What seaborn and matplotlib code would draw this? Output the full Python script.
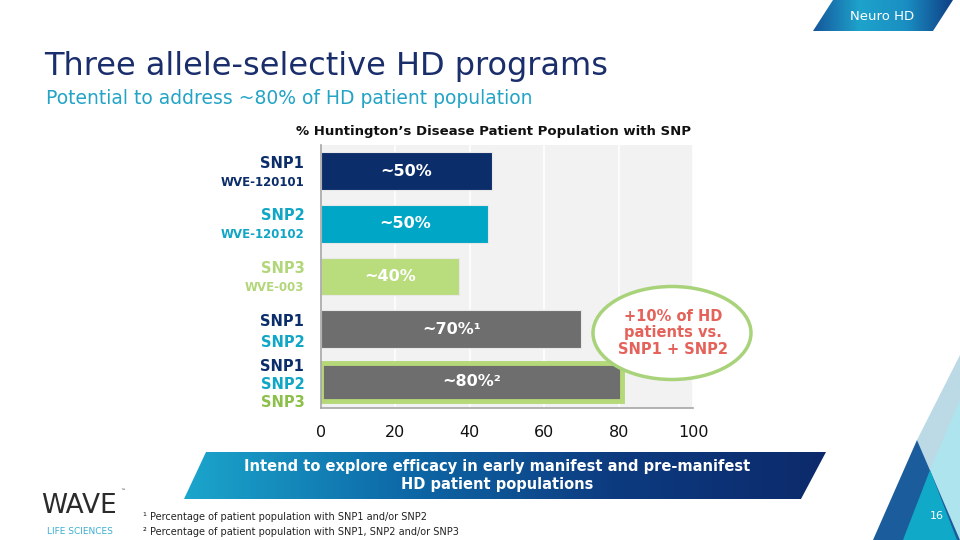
import numpy as np
import pandas as pd
import matplotlib
matplotlib.use("Agg")
import matplotlib.pyplot as plt
import seaborn as sns
from matplotlib.patches import Polygon, Ellipse
from matplotlib.colors import LinearSegmentedColormap

# ---------------- data ----------------
categories = ["SNP1", "SNP2", "SNP3", "SNP1+SNP2", "SNP1+SNP2+SNP3"]
values = [46, 45, 37, 70, 81]
bar_labels = ["~50%", "~50%", "~40%", "~70%\u00b9", "~80%\u00b2"]
bar_colors = ["#0b2d6a", "#00a6c6", "#b9dc7d", "#6e6e6e", "#6e6e6e"]
row_label_lines = [
    [("SNP1", 10.5), ("WVE-120101", 8.5)],
    [("SNP2", 10.5), ("WVE-120102", 8.5)],
    [("SNP3", 10.5), ("WVE-003", 8.5)],
    [("SNP1", 10.5), ("SNP2", 10.5)],
    [("SNP1", 10.5), ("SNP2", 10.5), ("SNP3", 10.5)],
]
row_label_colors = [
    ["#0b2d6a", "#0b2d6a"],
    ["#10a6c6", "#10a6c6"],
    ["#b2d67a", "#b2d67a"],
    ["#0b2d6a", "#10a6c6"],
    ["#0b2d6a", "#10a6c6", "#8cc04a"],
]
xticks = [0, 20, 40, 60, 80, 100]
title = "Three allele-selective HD programs"
subtitle = "Potential to address ~80% of HD patient population"
chart_title = "% Huntington\u2019s Disease Patient Population with SNP"
callout = "+10% of HD\npatients vs.\nSNP1 + SNP2"
banner = "Intend to explore efficacy in early manifest and pre-manifest\nHD patient populations"
footnotes = ["\u00b9 Percentage of patient population with SNP1 and/or SNP2",
             "\u00b2 Percentage of patient population with SNP1, SNP2 and/or SNP3"]

df = pd.DataFrame({"cat": categories, "val": values})

sns.set_theme(style="white")
plt.rcParams["font.family"] = ["DejaVu Sans"]

W, H = 960, 540
fig = plt.figure(figsize=(9.6, 5.4), dpi=100)
fig.patch.set_facecolor("white")

ax = fig.add_axes([321 / W, 1 - 408 / H, (693 - 321) / W, (408 - 145) / H])
sns.barplot(data=df, x="val", y="cat", hue="cat", palette=bar_colors,
            orient="h", width=0.72, legend=False, ax=ax, saturation=1, zorder=3)
ax.set_facecolor("#f2f2f2")
ax.set_xlim(0, 100)
ax.set_ylim(4.5, -0.5)
ax.set_xticks(xticks)
ax.set_xticklabels([str(t) for t in xticks], fontsize=11.5, color="#111111")
ax.tick_params(axis="x", length=0, pad=12)
ax.set_yticks(range(len(categories)))
ax.set_yticklabels([""] * len(categories))
ax.tick_params(axis="y", length=0)
ax.set_xlabel("")
ax.set_ylabel("")
ax.grid(axis="x", color="white", lw=1.2, zorder=0)
ax.set_axisbelow(True)
for s in ["top", "right"]:
    ax.spines[s].set_visible(False)
for s in ["left", "bottom"]:
    ax.spines[s].set_color("#a6a6a6")
    ax.spines[s].set_linewidth(1.2)
    ax.spines[s].set_zorder(6)

patches = [p for p in ax.patches]
for p in patches[:-1]:
    p.set_edgecolor("#e8e8e8")
    p.set_linewidth(0.8)
last = patches[-1]
last.set_edgecolor("#b5d878")
last.set_linewidth(3.5)

for i, (v, lab) in enumerate(zip(values, bar_labels)):
    ax.text(v / 2, i, lab, ha="center", va="center", color="white",
            fontsize=11.5, fontweight="bold", zorder=5)

# row labels (offsets in pixels from the row centre)
row_offsets = [[8, -11], [8, -11], [8, -11], [8, -13], [15, -3, -21]]
for i, lines in enumerate(row_label_lines):
    for (txt, fs), col, dy in zip(lines, row_label_colors[i], row_offsets[i]):
        ax.annotate(txt, xy=(0, i), xycoords=("axes fraction", "data"),
                    xytext=(-12, dy * 0.72), textcoords="offset points",
                    ha="right", va="center", fontsize=fs, fontweight="bold",
                    color=col)

# ---------------- overlay ----------------
ov = fig.add_axes([0, 0, 1, 1], zorder=10)
ov.set_xlim(0, W)
ov.set_ylim(H, 0)
ov.axis("off")
ov.patch.set_alpha(0)


def grad_poly(pts, colors):
    poly = Polygon(pts, closed=True, facecolor="none", edgecolor="none")
    ov.add_patch(poly)
    xs = [p[0] for p in pts]
    ys = [p[1] for p in pts]
    cmap = LinearSegmentedColormap.from_list("g", colors)
    grad = np.linspace(0, 1, 256).reshape(1, -1)
    im = ov.imshow(grad, cmap=cmap, aspect="auto",
                   extent=(min(xs), max(xs), max(ys), min(ys)), zorder=2)
    im.set_clip_path(poly)


# Neuro HD tab
grad_poly([(833, 0), (953, 0), (933, 31), (813, 31)],
          ["#15569a", "#1ea3cc", "#1a8ec2", "#0f3f85"])
ov.text(882, 17, "Neuro HD", color="white", fontsize=9.5, ha="center",
        va="center", zorder=3)

# titles
ov.text(44, 67, title, color="#1b2e6c", fontsize=23, ha="left",
        va="center")
ov.text(46, 98, subtitle, color="#23a4c6", fontsize=13.5, ha="left",
        va="center")
ov.text(494, 131, chart_title, color="#111111", fontsize=9.5,
        fontweight="bold", ha="center", va="center")

# callout ellipse
ov.add_patch(Ellipse((672, 333), 158, 93, facecolor="white",
                     edgecolor="#a9d37a", lw=2.5, zorder=3))
ov.text(673, 333, callout, color="#e4625a", fontsize=10.5, fontweight="bold",
        ha="center", va="center", linespacing=1.15, zorder=4)

# banner
grad_poly([(206, 452), (826, 452), (801, 499), (184, 499)],
          ["#1ba6cc", "#0e6aa8", "#0d3b80", "#0c2a6b"])
ov.text(497, 476, banner, color="white", fontsize=10.5, fontweight="bold",
        ha="center", va="center", linespacing=1.25, zorder=3)

# logo
ov.text(79, 506, "WAVE", color="#2b2b2b", fontsize=19, ha="center",
        va="center")
ov.text(123, 491, "\u2122", color="#2b2b2b", fontsize=3.5, ha="center",
        va="center")
ov.text(80, 531, "LIFE SCIENCES", color="#3aaed0", fontsize=6.5,
        ha="center", va="center")

# footnotes
ov.text(143, 517, footnotes[0], color="#222222", fontsize=7, ha="left",
        va="center")
ov.text(143, 532, footnotes[1], color="#222222", fontsize=7, ha="left",
        va="center")

# right decoration
ov.add_patch(Polygon([(960, 355), (917, 440), (960, 540)], closed=True,
                     facecolor="#bcd9e6", edgecolor="none", zorder=2))
ov.add_patch(Polygon([(960, 400), (930, 470), (960, 540)], closed=True,
                     facecolor="#ade4ee", edgecolor="none", zorder=2))
ov.add_patch(Polygon([(917, 440), (873, 540), (960, 540)], closed=True,
                     facecolor="#1b5d9c", edgecolor="none", zorder=2))
ov.add_patch(Polygon([(930, 470), (903, 540), (957, 540)], closed=True,
                     facecolor="#10aac8", edgecolor="none", zorder=2))
ov.text(937, 516, "16", color="white", fontsize=8, ha="center", va="center",
        zorder=3)

fig.savefig("out.png", dpi=100, facecolor="white")
